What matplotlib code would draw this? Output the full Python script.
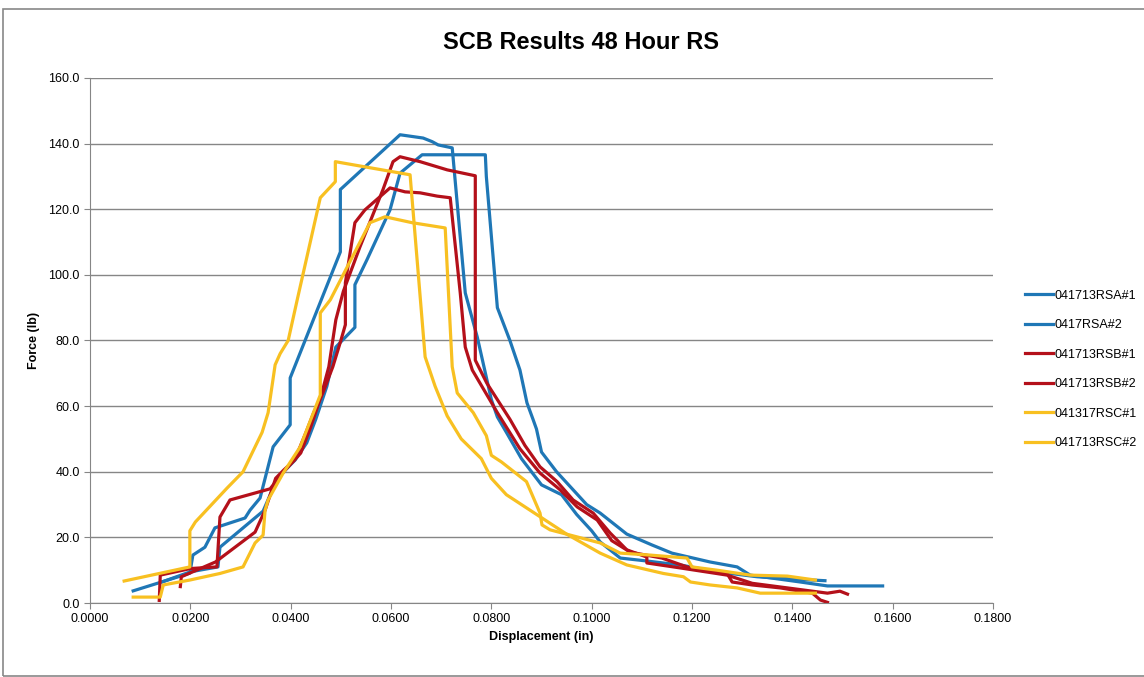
import matplotlib
matplotlib.use("Agg")
import matplotlib.pyplot as plt
from matplotlib.patches import Rectangle

# displacement (in) / force (lb)
a1_x = [0.0086, 0.0199, 0.0205, 0.0229, 0.0249, 0.0309, 0.0319, 0.0339, 0.0365, 0.0399,
        0.0399, 0.0499, 0.0499, 0.0618, 0.0664, 0.0682, 0.0694, 0.0722, 0.0748, 0.0772,
        0.0800, 0.0812, 0.0830, 0.0860, 0.0880, 0.0900, 0.0940, 0.0970, 0.1000, 0.1017,
        0.1057, 0.1110, 0.1180, 0.1250, 0.1330, 0.1400, 0.1465]
a1_y = [3.7, 9.1, 14.6, 17.0, 22.9, 25.9, 28.3, 32.0, 47.6, 54.3,
        68.6, 107.0, 126.0, 142.7, 141.7, 140.6, 139.6, 138.7, 94.5, 81.0,
        62.0, 56.7, 52.0, 44.0, 40.0, 36.0, 33.0, 27.0, 22.0, 18.6,
        13.7, 12.8, 11.5, 9.5, 8.0, 7.3, 6.8]

a2_x = [0.0145, 0.0200, 0.0255, 0.0259, 0.0345, 0.0372, 0.0386, 0.0409, 0.0432, 0.0450,
        0.0472, 0.0490, 0.0528, 0.0528, 0.0552, 0.0598, 0.0618, 0.0662, 0.0788, 0.0790,
        0.0812, 0.0837, 0.0857, 0.0871, 0.0883, 0.0890, 0.0900, 0.0930, 0.0960, 0.0990,
        0.1017, 0.1070, 0.1120, 0.1160, 0.1236, 0.1290, 0.1316, 0.1416, 0.1470, 0.1580]
a2_y = [6.5, 9.5, 11.0, 17.0, 28.0, 37.5, 40.0, 43.6, 48.8, 56.0,
        66.0, 78.0, 84.0, 97.0, 104.6, 119.8, 131.0, 136.6, 136.6, 130.0,
        90.0, 80.0, 71.0, 61.0, 56.0, 53.0, 46.0, 40.0, 35.0, 30.0,
        27.4, 21.0, 17.7, 15.2, 12.5, 11.0, 8.5, 6.4, 5.2, 5.2]

b1_x = [0.0138, 0.0140, 0.0200, 0.0253, 0.0259, 0.0279, 0.0359, 0.0386, 0.0420, 0.0440,
        0.0460, 0.0476, 0.0490, 0.0505, 0.0538, 0.0584, 0.0604, 0.0618, 0.0658, 0.0712,
        0.0768, 0.0768, 0.0791, 0.0837, 0.0867, 0.0897, 0.0931, 0.0963, 0.1003, 0.1037,
        0.1070, 0.1110, 0.1110, 0.1176, 0.1270, 0.1320, 0.1390, 0.1470, 0.1495, 0.1510]
b1_y = [0.8, 8.5, 10.5, 11.0, 26.2, 31.4, 34.8, 40.0, 45.7, 53.7,
        62.8, 72.0, 86.3, 95.0, 108.5, 126.0, 134.5, 136.0, 134.5, 132.0,
        130.2, 74.0, 67.0, 56.0, 48.0, 41.5, 37.0, 31.4, 27.4, 21.3,
        16.2, 14.0, 12.2, 10.7, 8.5, 6.0, 4.6, 3.0, 3.6, 2.7]

b2_x = [0.0180, 0.0182, 0.0250, 0.0329, 0.0349, 0.0370, 0.0386, 0.0408, 0.0430, 0.0446,
        0.0464, 0.0484, 0.0500, 0.0509, 0.0509, 0.0528, 0.0548, 0.0598, 0.0628, 0.0658,
        0.0692, 0.0718, 0.0738, 0.0748, 0.0762, 0.0812, 0.0857, 0.0897, 0.0937, 0.0971,
        0.1011, 0.1040, 0.1077, 0.1140, 0.1190, 0.1216, 0.1270, 0.1280, 0.1320, 0.1376,
        0.1440, 0.1456, 0.1470]
b2_y = [5.0, 8.0, 12.5, 21.6, 28.3, 38.0, 40.5, 43.6, 51.8, 58.0,
        64.0, 72.0, 80.0, 84.8, 97.6, 115.9, 119.8, 126.5, 125.3, 125.0,
        124.0, 123.5, 94.5, 78.0, 71.0, 58.0, 47.0, 39.6, 34.5, 29.3,
        25.3, 19.0, 15.5, 13.7, 11.0, 10.0, 9.0, 6.4, 5.5, 4.6,
        3.0, 0.9, 0.2]

c1_x = [0.0068, 0.0199, 0.0199, 0.0210, 0.0273, 0.0305, 0.0343, 0.0355, 0.0369, 0.0379,
        0.0395, 0.0413, 0.0459, 0.0489, 0.0489, 0.0638, 0.0668, 0.0688, 0.0712, 0.0740,
        0.0780, 0.0800, 0.0830, 0.0860, 0.0900, 0.0950, 0.1017, 0.1070, 0.1143, 0.1183,
        0.1197, 0.1236, 0.1290, 0.1336, 0.1396, 0.1446]
c1_y = [6.7, 11.0, 22.0, 24.7, 35.0, 40.0, 52.0, 58.0, 72.6, 76.0,
        80.0, 92.4, 123.5, 128.4, 134.5, 130.5, 75.0, 66.0, 57.0, 50.0,
        44.0, 38.0, 33.0, 30.0, 26.0, 21.0, 15.2, 11.6, 9.0, 8.0,
        6.4, 5.5, 4.6, 3.0, 3.0, 3.0]

c2_x = [0.0086, 0.0140, 0.0146, 0.0199, 0.0259, 0.0305, 0.0329, 0.0345, 0.0349, 0.0355,
        0.0385, 0.0419, 0.0459, 0.0459, 0.0479, 0.0558, 0.0588, 0.0642, 0.0708, 0.0722,
        0.0732, 0.0764, 0.0790, 0.0800, 0.0820, 0.0870, 0.0897, 0.0901, 0.0917, 0.0957,
        0.1017, 0.1057, 0.1117, 0.1190, 0.1200, 0.1250, 0.1316, 0.1390, 0.1446]
c2_y = [1.8, 1.8, 5.5, 7.0, 9.0, 11.0, 18.3, 20.7, 28.3, 31.4,
        39.6, 47.6, 63.4, 88.4, 92.4, 115.9, 117.7, 115.9, 114.3, 72.0,
        64.0, 58.0, 51.0, 45.0, 43.0, 37.0, 27.4, 23.8, 22.3, 20.7,
        18.3, 15.2, 14.6, 13.7, 11.0, 10.0, 8.5, 8.2, 7.0]

labels = ["041713RSA#1", "0417RSA#2", "041713RSB#1", "041713RSB#2", "041317RSC#1", "041713RSC#2"]
blue = "#1F77B6"
red = "#B4101A"
yellow = "#F8C021"
colors = [blue, blue, red, red, yellow, yellow]
series = [(a1_x, a1_y), (a2_x, a2_y), (b1_x, b1_y), (b2_x, b2_y), (c1_x, c1_y), (c2_x, c2_y)]

plt.rcParams["font.family"] = ["Liberation Sans", "DejaVu Sans"]

fig = plt.figure(figsize=(11.44, 6.77), dpi=100)
ax = fig.add_axes([0.0787, 0.1093, 0.7893, 0.7755])

for (xs, ys), lab, col in zip(series, labels, colors):
    ax.plot(xs, ys, color=col, lw=2.3, label=lab, solid_joinstyle="round")

ax.set_xlim(0, 0.18)
ax.set_ylim(0, 160)
ax.set_xticks([i * 0.02 for i in range(10)])
ax.set_xticklabels([f"{i * 0.02:.4f}" for i in range(10)])
ax.set_yticks(range(0, 161, 20))
ax.set_yticklabels([f"{v:.1f}" for v in range(0, 161, 20)])
ax.tick_params(labelsize=9, colors="#000000", length=4, color="#868686")
ax.yaxis.grid(True, color="#868686", lw=1)
ax.set_axisbelow(True)
for s in ["top", "right"]:
    ax.spines[s].set_visible(False)
for s in ["left", "bottom"]:
    ax.spines[s].set_color("#868686")

ax.set_xlabel("Displacement (in)", fontsize=9, fontweight="bold", labelpad=4)
ax.set_ylabel("Force (lb)", fontsize=9, fontweight="bold", labelpad=6)
fig.text(0.508, 0.937, "SCB Results 48 Hour RS", ha="center", va="center",
         fontsize=17, fontweight="bold")

ax.legend(loc="center left", bbox_to_anchor=(1.035, 0.445), frameon=False,
          fontsize=9, handlelength=2.3, handletextpad=0.1, labelspacing=1.4,
          borderaxespad=0, borderpad=0)

fig.patches.append(Rectangle((3 / 1144, 1 / 677), 1.1, 667 / 677, transform=fig.transFigure,
                             fill=False, edgecolor="#888888", lw=1.2))

fig.savefig("out.png", dpi=100)
